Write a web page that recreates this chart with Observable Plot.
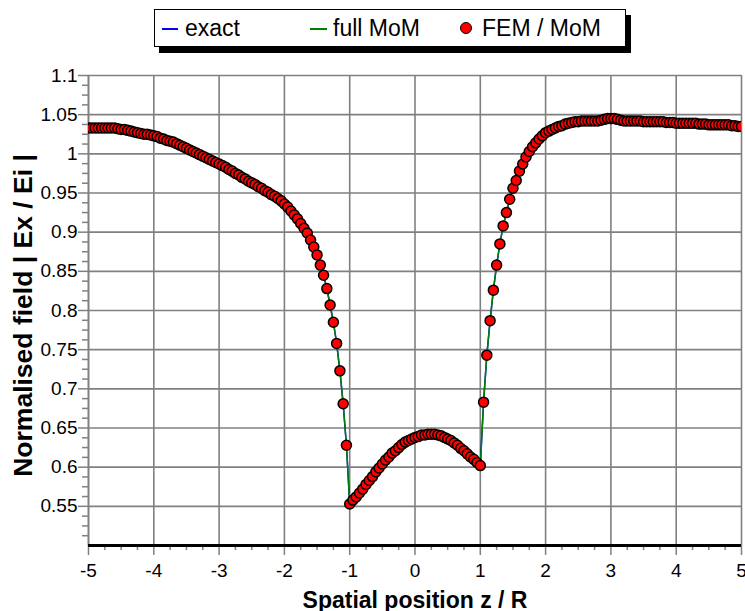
<!DOCTYPE html>
<html>
<head>
<meta charset="utf-8">
<script src="https://cdn.jsdelivr.net/npm/d3@7"></script>
<script src="https://cdn.jsdelivr.net/npm/@observablehq/plot@0.6"></script>
<style>
  html, body { margin: 0; padding: 0; background: white; }
  #wrap { position: relative; width: 745px; height: 611px; font-family: "Liberation Sans", Arial, sans-serif; }
  #legend { position: absolute; left: 154px; top: 9px; width: 470px; height: 36px; border: 1.5px solid black; background: white; box-shadow: 5px 6px 0 black; z-index: 2; }
  .lg { position: absolute; font-size: 23px; line-height: 23px; color: black; white-space: nowrap; z-index: 3; }
  .ln { position: absolute; height: 2px; z-index: 3; }
  .dt { position: absolute; width: 10px; height: 10px; border-radius: 50%; background: #ff0000; border: 1.5px solid black; z-index: 3; }
  #chart { position: absolute; left: 0; top: 0; }
</style>
</head>
<body>
<div id="wrap">
  <div id="legend"></div>
  <div class="ln" style="left:162px; top:28px; width:16px; background:#0000ff;"></div>
  <div class="lg" style="left:185px; top:17px;">exact</div>
  <div class="ln" style="left:310px; top:28px; width:17px; background:#008000;"></div>
  <div class="lg" style="left:333px; top:17px;">full MoM</div>
  <div class="dt" style="left:460px; top:22px;"></div>
  <div class="lg" style="left:482px; top:17px;">FEM / MoM</div>
  <div id="chart"></div>
</div>
<script>
// Spatial positions z / R of the samples
const zPos = [
  -5.00,-4.95,-4.90,-4.85,-4.80,-4.75,-4.70,-4.65,-4.60,-4.55,
  -4.50,-4.45,-4.40,-4.35,-4.30,-4.25,-4.20,-4.15,-4.10,-4.05,
  -4.00,-3.95,-3.90,-3.85,-3.80,-3.75,-3.70,-3.65,-3.60,-3.55,
  -3.50,-3.45,-3.40,-3.35,-3.30,-3.25,-3.20,-3.15,-3.10,-3.05,
  -3.00,-2.95,-2.90,-2.85,-2.80,-2.75,-2.70,-2.65,-2.60,-2.55,
  -2.50,-2.45,-2.40,-2.35,-2.30,-2.25,-2.20,-2.15,-2.10,-2.05,
  -2.00,-1.95,-1.90,-1.85,-1.80,-1.75,-1.70,-1.65,-1.60,-1.55,
  -1.50,-1.45,-1.40,-1.35,-1.30,-1.25,-1.20,-1.15,-1.10,-1.05,
  -1.00,-0.95,-0.90,-0.85,-0.80,-0.75,-0.70,-0.65,-0.60,-0.55,
  -0.50,-0.45,-0.40,-0.35,-0.30,-0.25,-0.20,-0.15,-0.10,-0.05,
   0.00, 0.05, 0.10, 0.15, 0.20, 0.25, 0.30, 0.35, 0.40, 0.45,
   0.50, 0.55, 0.60, 0.65, 0.70, 0.75, 0.80, 0.85, 0.90, 0.95,
   1.00, 1.05, 1.10, 1.15, 1.20, 1.25, 1.30, 1.35, 1.40, 1.45,
   1.50, 1.55, 1.60, 1.65, 1.70, 1.75, 1.80, 1.85, 1.90, 1.95,
   2.00, 2.05, 2.10, 2.15, 2.20, 2.25, 2.30, 2.35, 2.40, 2.45,
   2.50, 2.55, 2.60, 2.65, 2.70, 2.75, 2.80, 2.85, 2.90, 2.95,
   3.00, 3.05, 3.10, 3.15, 3.20, 3.25, 3.30, 3.35, 3.40, 3.45,
   3.50, 3.55, 3.60, 3.65, 3.70, 3.75, 3.80, 3.85, 3.90, 3.95,
   4.00, 4.05, 4.10, 4.15, 4.20, 4.25, 4.30, 4.35, 4.40, 4.45,
   4.50, 4.55, 4.60, 4.65, 4.70, 4.75, 4.80, 4.85, 4.90, 4.95,
   5.00
];

// FEM / MoM normalised field |Ex/Ei|
const femMom = [
  1.033,1.033,1.033,1.033,1.033,1.033,1.033,1.033,1.033,1.032,
  1.031,1.031,1.030,1.029,1.028,1.027,1.026,1.025,1.025,1.024,
  1.023,1.022,1.020,1.019,1.017,1.016,1.015,1.013,1.011,1.009,
  1.007,1.005,1.003,1.001,0.999,0.997,0.995,0.993,0.991,0.989,
  0.987,0.985,0.983,0.980,0.978,0.975,0.973,0.970,0.968,0.965,
  0.963,0.961,0.958,0.956,0.953,0.951,0.948,0.946,0.943,0.940,
  0.936,0.932,0.927,0.922,0.917,0.911,0.905,0.899,0.890,0.881,
  0.871,0.858,0.845,0.828,0.807,0.785,0.758,0.723,0.681,0.628,
  0.553,0.558,0.562,0.567,0.572,0.578,0.583,0.588,0.594,0.599,
  0.604,0.609,0.613,0.618,0.621,0.625,0.629,0.632,0.634,0.636,
  0.638,0.639,0.641,0.641,0.642,0.642,0.642,0.641,0.640,0.638,
  0.636,0.634,0.631,0.628,0.624,0.621,0.617,0.613,0.610,0.606,
  0.602,0.683,0.743,0.787,0.826,0.858,0.885,0.908,0.925,0.942,
  0.956,0.966,0.978,0.987,0.996,1.003,1.009,1.014,1.019,1.023,
  1.027,1.029,1.031,1.033,1.035,1.036,1.038,1.039,1.040,1.041,
  1.041,1.042,1.042,1.042,1.042,1.042,1.042,1.043,1.044,1.045,
  1.045,1.045,1.044,1.043,1.042,1.042,1.042,1.042,1.042,1.042,
  1.041,1.041,1.041,1.041,1.041,1.041,1.041,1.040,1.040,1.040,
  1.039,1.039,1.039,1.039,1.039,1.039,1.039,1.038,1.038,1.038,
  1.037,1.037,1.037,1.037,1.037,1.037,1.037,1.036,1.036,1.035,
  1.035
];

// the exact and full MoM curves coincide with the FEM / MoM samples at this scale
const exactVals = femMom;
const fullMomVals = femMom;

const xTicks = [-5,-4,-3,-2,-1,0,1,2,3,4,5];
const yTicks = [0.55,0.6,0.65,0.7,0.75,0.8,0.85,0.9,0.95,1,1.05,1.1];
const xMinor = d3.range(-5, 5.001, 0.25).filter(v => Math.abs(v - Math.round(v)) > 1e-6);
const yMinor = d3.range(0.5, 1.1001, 0.0125).filter(v => Math.abs(v * 20 - Math.round(v * 20)) > 1e-6);

const rows = zPos.map((z, i) => ({z, fem: femMom[i], exact: exactVals[i], full: fullMomVals[i]}));

const grid = "#808080";
const chart = Plot.plot({
  width: 745,
  height: 611,
  marginLeft: 88,
  marginRight: 4,
  marginTop: 75,
  marginBottom: 66,
  style: {fontFamily: "'Liberation Sans', Arial, sans-serif", fontSize: "19px", background: "transparent", color: "black"},
  x: {domain: [-5, 5]},
  y: {domain: [0.5, 1.1]},
  marks: [
    Plot.gridX(xTicks.filter(v => v > -5), {stroke: grid, strokeOpacity: 1, strokeWidth: 1.6}),
    Plot.gridY(yTicks, {stroke: grid, strokeOpacity: 1, strokeWidth: 1.6}),
    Plot.ruleX([-5], {stroke: grid, strokeWidth: 2}),
    Plot.axisY(yTicks, {tickSize: 10, tickPadding: 1, stroke: grid, strokeWidth: 1.5, fill: "black", tickFormat: d => String(d), label: null}),
    Plot.axisY(yMinor, {tickSize: 6, stroke: grid, strokeWidth: 1.5, tickFormat: () => "", label: null}),
    Plot.axisX(xTicks, {tickSize: 10, tickPadding: 8, stroke: grid, strokeWidth: 1.5, fill: "black", tickFormat: d => String(d), label: null}),
    Plot.axisX(xMinor, {tickSize: 5, stroke: grid, strokeWidth: 1.5, tickFormat: () => "", label: null}),
    Plot.line(rows, {x: "z", y: "exact", stroke: "#0000ff", strokeWidth: 1.5, clip: true}),
    Plot.line(rows, {x: "z", y: "full", stroke: "#008000", strokeWidth: 1.5, clip: true}),
    Plot.dot(rows, {x: "z", y: "fem", r: 5, fill: "#ff0000", fillOpacity: 1, stroke: "black", strokeWidth: 1.5, clip: true}),
    Plot.ruleY([0.5], {stroke: "black", strokeWidth: 3}),
    Plot.text(["Spatial position z / R"], {text: d => d, frameAnchor: "bottom", dy: 62, fontSize: 23, fontWeight: "bold", fill: "black"}),
    Plot.text(["Normalised field | Ex / Ei |"], {text: d => d, frameAnchor: "left", textAnchor: "middle", lineAnchor: "middle", rotate: -90, dx: -65, dy: 5, fontSize: 26.5, fontWeight: "bold", fill: "black"})
  ]
});
document.getElementById("chart").appendChild(chart);
</script>
</body>
</html>
